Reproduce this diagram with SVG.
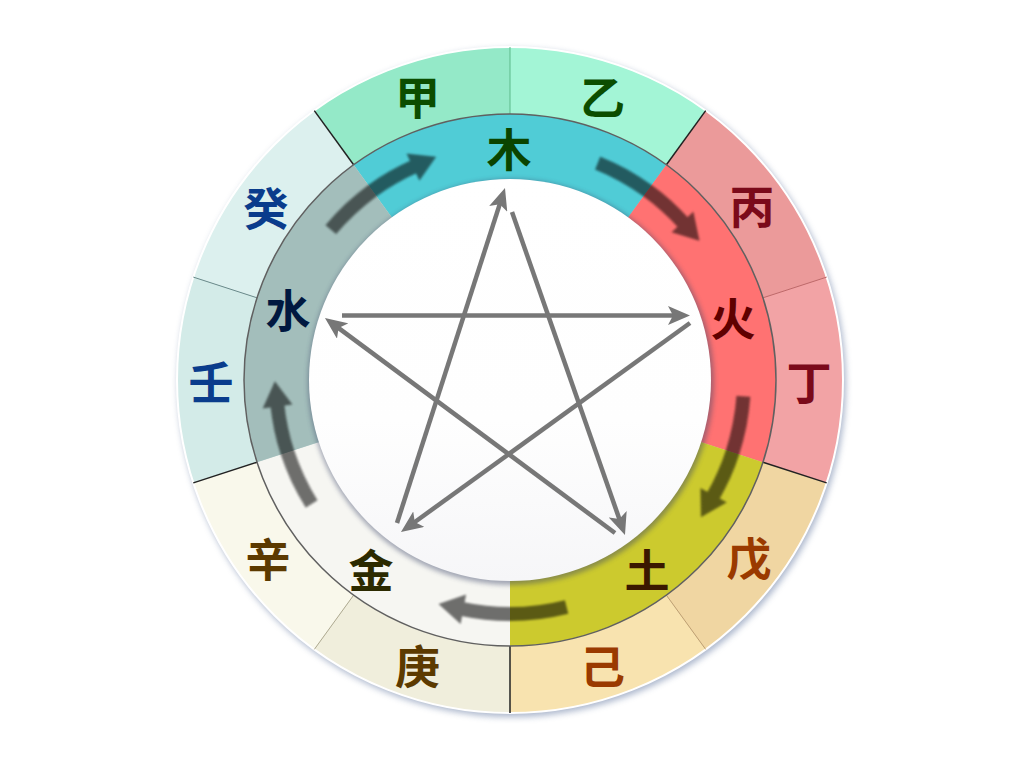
<svg xmlns="http://www.w3.org/2000/svg" xmlns:xlink="http://www.w3.org/1999/xlink" width="1024" height="768" viewBox="0 0 1024 768">
<defs>
<style>
.t{font-family:"Noto Sans CJK SC","Noto Sans CJK TC",sans-serif;font-weight:bold;font-size:45px;text-anchor:middle;dominant-baseline:central}
.div{stroke:#222;stroke-width:1.5}
.star{stroke:#777;stroke-width:4.5;fill:none;marker-end:url(#ah)}
</style>
<marker id="ah" markerUnits="userSpaceOnUse" viewBox="0 0 22 19" markerWidth="22" markerHeight="19" refX="10" refY="9.5" orient="auto">
<path d="M0,0 L22,9.5 L0,19 L5,9.5 Z" fill="#777"/>
</marker>
<filter id="sh1" x="-10%" y="-10%" width="120%" height="120%">
<feGaussianBlur stdDeviation="3"/>
</filter>
<filter id="sh2" x="-10%" y="-10%" width="120%" height="120%">
<feGaussianBlur stdDeviation="2.5"/>
</filter>
<filter id="sh3" x="-20%" y="-20%" width="140%" height="140%">
<feGaussianBlur stdDeviation="0.8"/>
</filter>
<linearGradient id="wg" x1="0" y1="0" x2="0" y2="1">
<stop offset="0" stop-color="#ffffff"/>
<stop offset="0.6" stop-color="#fefefe"/>
<stop offset="1" stop-color="#f6f6f8"/>
</linearGradient>
<g id="carrow" opacity="0.55" filter="url(#sh3)">
<path d="M453.4,153.0 A234,234 0 0 1 558.7,151.1" fill="none" stroke="#000" stroke-width="14"/>
<path d="M559.4,136.0 L581.5,156.0 L553.9,165.4 Z" fill="#000"/>
</g>
</defs>
<rect width="1024" height="768" fill="#ffffff"/>
<circle cx="512" cy="383" r="334" fill="#8a9ab8" opacity="0.7" filter="url(#sh1)"/>
<g id="stems">
<g id="jia"><path d="M510,380 L314.3,110.6 A333,333 0 0 1 510,47 Z" fill="#94E9C8"/></g>
<g id="yi"><path d="M510,380 L510,47 A333,333 0 0 1 705.7,110.6 Z" fill="#A3F5D6"/></g>
<g id="bing"><path d="M510,380 L705.7,110.6 A333,333 0 0 1 826.7,277.1 Z" fill="#EB9A9A"/></g>
<g id="ding"><path d="M510,380 L826.7,277.1 A333,333 0 0 1 826.7,482.9 Z" fill="#F2A3A5"/></g>
<g id="wu"><path d="M510,380 L826.7,482.9 A333,333 0 0 1 705.7,649.4 Z" fill="#F0D6A2"/></g>
<g id="ji"><path d="M510,380 L705.7,649.4 A333,333 0 0 1 510,713 Z" fill="#F8E3AF"/></g>
<g id="geng"><path d="M510,380 L510,713 A333,333 0 0 1 314.3,649.4 Z" fill="#F0EEDC"/></g>
<g id="xin"><path d="M510,380 L314.3,649.4 A333,333 0 0 1 193.3,482.9 Z" fill="#F9F8EB"/></g>
<g id="ren"><path d="M510,380 L193.3,482.9 A333,333 0 0 1 193.3,277.1 Z" fill="#D3EBE8"/></g>
<g id="gui"><path d="M510,380 L193.3,277.1 A333,333 0 0 1 314.3,110.6 Z" fill="#DCF0EE"/></g>
</g>
<circle cx="510" cy="380" r="333" fill="none" stroke="#ffffff" stroke-width="2"/>
<g id="dividers">
<line class="div" x1="666.4" y1="164.8" x2="705.7" y2="110.6"/>
<line class="div" x1="763" y1="462.2" x2="826.7" y2="482.9"/>
<line class="div" x1="510" y1="646" x2="510" y2="713"/>
<line class="div" x1="257" y1="462.2" x2="193.3" y2="482.9"/>
<line class="div" x1="353.6" y1="164.8" x2="314.3" y2="110.6"/>
<line x1="510" y1="114" x2="510" y2="47" stroke="#5cb98a" stroke-width="1"/>
<line x1="763" y1="297.8" x2="826.7" y2="277.1" stroke="#c06868" stroke-width="1"/>
<line x1="666.4" y1="595.2" x2="705.7" y2="649.4" stroke="#c0a070" stroke-width="1"/>
<line x1="353.6" y1="595.2" x2="314.3" y2="649.4" stroke="#b0ab90" stroke-width="1"/>
<line x1="257" y1="297.8" x2="193.3" y2="277.1" stroke="#6a8a8a" stroke-width="1"/>
</g>
<g id="elements">
<g id="mu"><path d="M510,380 L353.6,164.8 A266,266 0 0 1 666.4,164.8 Z" fill="#50CCD6"/></g>
<g id="huo"><path d="M510,380 L666.4,164.8 A266,266 0 0 1 763,462.2 Z" fill="#FF7272"/></g>
<g id="tu"><path d="M510,380 L763,462.2 A266,266 0 0 1 510,646 Z" fill="#CCCA2E"/></g>
<g id="jin"><path d="M510,380 L510,646 A266,266 0 0 1 257,462.2 Z" fill="#F6F6F2"/></g>
<g id="shui"><path d="M510,380 L257,462.2 A266,266 0 0 1 353.6,164.8 Z" fill="#A3BEBB"/></g>
</g>
<circle cx="510" cy="380" r="266" fill="none" stroke="#606060" stroke-width="1.5"/>
<circle cx="511" cy="382" r="203" fill="#3a4468" opacity="0.45" filter="url(#sh2)"/>
<circle cx="510" cy="380" r="201" fill="url(#wg)"/>
<g id="connectors">
<use xlink:href="#carrow" transform="rotate(-36 510 380)"/>
<use xlink:href="#carrow" transform="rotate(36 510 380)"/>
<use xlink:href="#carrow" transform="rotate(108 510 380)"/>
<use xlink:href="#carrow" transform="rotate(180 510 380)"/>
<use xlink:href="#carrow" transform="rotate(252 510 380)"/>
<line class="star" x1="397" y1="523" x2="501.3" y2="199.4"/>
<line class="star" x1="512" y1="212" x2="621" y2="523.7"/>
<line class="star" x1="615" y1="533" x2="334.6" y2="325.1"/>
<line class="star" x1="342" y1="315.5" x2="678" y2="315.5"/>
<line class="star" x1="690" y1="323" x2="410.7" y2="525"/>
</g>
<g id="stem-labels">
<text class="t" x="417.6" y="95.6" fill="#0B4D00">甲</text>
<text class="t" x="602.4" y="95.6" fill="#0B4D00">乙</text>
<text class="t" x="751.9" y="204.2" fill="#7B0A1A">丙</text>
<text class="t" x="809" y="380" fill="#7B0A1A">丁</text>
<text class="t" x="749" y="556" fill="#9A3A00">戊</text>
<text class="t" x="602.4" y="664.4" fill="#9A3A00">己</text>
<text class="t" x="417.6" y="664.4" fill="#5C3A00">庚</text>
<text class="t" x="268.1" y="557" fill="#5C3A00">辛</text>
<text class="t" x="211" y="380" fill="#0A3C8C">壬</text>
<text class="t" x="266" y="206" fill="#0A3C8C">癸</text>
</g>
<g id="element-labels">
<text class="t" x="509" y="147" fill="#0A4400">木</text>
<text class="t" x="733" y="316" fill="#600000">火</text>
<text class="t" x="647" y="568" fill="#3A1800">土</text>
<text class="t" x="371" y="568" fill="#2C2A00">金</text>
<text class="t" x="288" y="308" fill="#001840">水</text>
</g>
</svg>
